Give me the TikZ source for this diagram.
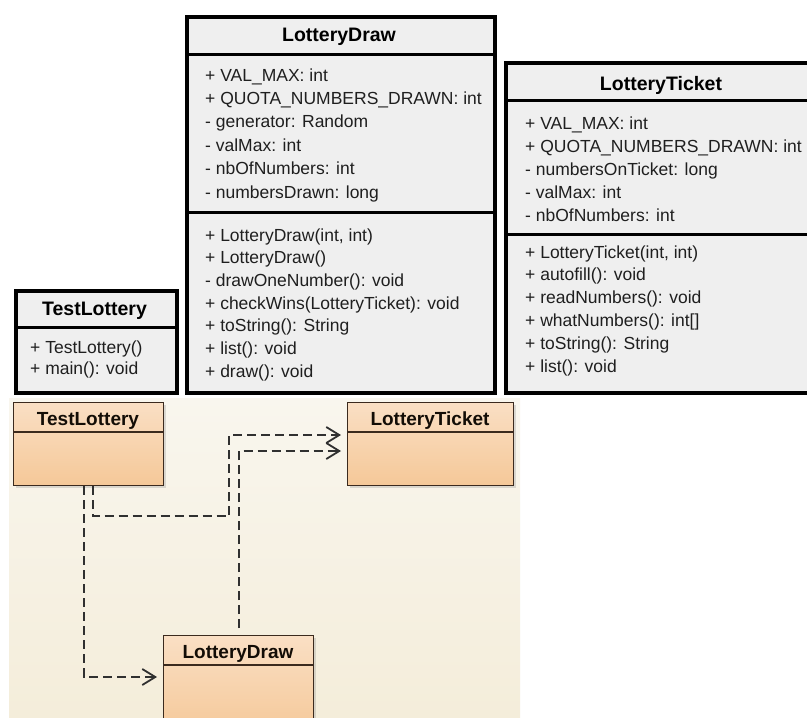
\documentclass[tikz,border=0pt]{standalone}
\usepackage{fontspec}
\setmainfont{Liberation Sans}
\usetikzlibrary{arrows.meta,shadows,calc}
\definecolor{topfill}{HTML}{EFEFEF}
\definecolor{creamtop}{HTML}{F9F6EE}
\definecolor{creambot}{HTML}{F4EDDA}
\definecolor{peachtop}{HTML}{FADFC4}
\definecolor{peachbot}{HTML}{F5C898}
\definecolor{peachline}{HTML}{3B2A1E}
\definecolor{dashcol}{HTML}{303030}
\tikzset{
  x=1pt, y=-1pt,
  topbox/.style={draw=black, line width=4pt, fill=topfill, anchor=north west, inner sep=0pt},
  topsep/.style={draw=black, line width=3pt},
  lowbox/.style={draw=peachline, line width=1.4pt, top color=peachtop, bottom color=peachbot,
     anchor=north west, inner sep=0pt,
     drop shadow={opacity=0.25, shadow xshift=2pt, shadow yshift=-2pt}},
  lowsep/.style={draw=peachline, line width=1.3pt},
  toptitle/.style={anchor=base, inner sep=0pt, font=\fontsize{19.5}{22}\selectfont\bfseries},
  member/.style={anchor=base west, inner sep=0pt, font=\fontsize{17.5}{20}\selectfont, text=black!88},
  lowtitle/.style={anchor=base, inner sep=0pt, font=\fontsize{19}{22}\selectfont\bfseries, text=black!90!brown},
  dep/.style={draw=dashcol, line width=2.1pt, dash pattern=on 9pt off 5pt,
     -{Straight Barb[length=13pt,width=16pt,line width=1.8pt]}}
}
\begin{document}
\begin{tikzpicture}
\clip (0,0) rectangle (807,718);
\fill[white] (0,0) rectangle (807,718);
% lower background
\shade[top color=creamtop, bottom color=creambot] (9,398) rectangle (520,718);

% ===== upper boxes =====
% LotteryDraw
\node[topbox, minimum width=308pt, minimum height=376pt] (LD) at (185,15) {};
\draw[topsep] (LD.west |- 0,54) -- (LD.east |- 0,54);
\draw[topsep] (LD.west |- 0,212) -- (LD.east |- 0,212);
\node[toptitle] (LDt) at (339,41) {LotteryDraw};
\foreach \t [count=\i] in {+ VAL\_MAX: int, + QUOTA\_NUMBERS\_DRAWN: int, - generator: Random,
   - valMax: int, - nbOfNumbers: int, - numbersDrawn: long}
  \node[member] (LDa\i) at (205,{81+23.4*(\i-1)}) {\t};
\foreach \t [count=\i] in {{+ LotteryDraw(int, int)}, + LotteryDraw(), - drawOneNumber(): void,
   + checkWins(LotteryTicket): void, + toString(): String, + list(): void, + draw(): void}
  \node[member] (LDm\i) at (205,{241+22.7*(\i-1)}) {\t};

% LotteryTicket
\node[topbox, minimum width=320pt, minimum height=330pt] (LT) at (504,61) {};
\draw[topsep] (LT.west |- 0,100) -- (LT.east |- 0,100);
\draw[topsep] (LT.west |- 0,234) -- (LT.east |- 0,234);
\node[toptitle] (LTt) at (661,90) {LotteryTicket};
\foreach \t [count=\i] in {+ VAL\_MAX: int, + QUOTA\_NUMBERS\_DRAWN: int, - numbersOnTicket: long,
   - valMax: int, - nbOfNumbers: int}
  \node[member] (LTa\i) at (525,{129+23.2*(\i-1)}) {\t};
\foreach \t [count=\i] in {{+ LotteryTicket(int, int)}, + autofill(): void, + readNumbers(): void,
   + whatNumbers(): int[], + toString(): String, + list(): void}
  \node[member] (LTm\i) at (525,{258+22.9*(\i-1)}) {\t};

% TestLottery
\node[topbox, minimum width=161pt, minimum height=102pt] (TL) at (14,289) {};
\draw[topsep] (TL.west |- 0,327) -- (TL.east |- 0,327);
\node[toptitle] (TLt) at (94.5,315) {TestLottery};
\node[member] (TLm1) at (30,353) {+ TestLottery()};
\node[member] (TLm2) at (30,374) {+ main(): void};

% ===== lower diagram =====
\node[lowbox, minimum width=150pt, minimum height=83pt] (TL2) at (13,402) {};
\draw[lowsep] (TL2.west |- 0,432) -- (TL2.east |- 0,432);
\node[lowtitle] (TL2t) at (88,425) {TestLottery};

\node[lowbox, minimum width=166pt, minimum height=83pt] (LT2) at (347,402) {};
\draw[lowsep] (LT2.west |- 0,432) -- (LT2.east |- 0,432);
\node[lowtitle] (LT2t) at (430,425) {LotteryTicket};

\node[lowbox, minimum width=150pt, minimum height=100pt] (LD2) at (163,635) {};
\draw[lowsep] (LD2.west |- 0,665) -- (LD2.east |- 0,665);
\node[lowtitle] (LD2t) at (238,658) {LotteryDraw};

% dependencies
\draw[dep, shorten >=6pt] ([xshift=4pt]TL2.south) -- ++(0,30) -| (229,435) -- (LT2.west |- 0,435);
\draw[dep, shorten >=6pt] ([xshift=-5pt]TL2.south) |- (LD2.west |- 0,677);
\draw[dep, shorten <=7pt, shorten >=6pt] (LD2.north) |- (LT2.west |- 0,451);
\end{tikzpicture}
\end{document}
